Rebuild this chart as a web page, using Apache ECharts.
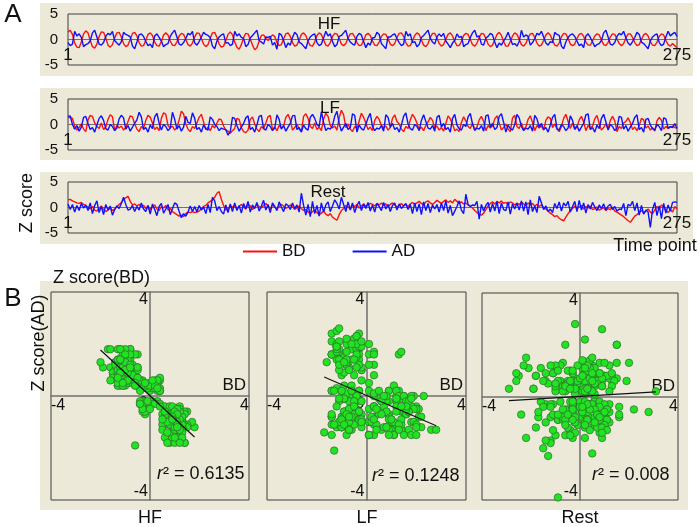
<!DOCTYPE html>
<html><head><meta charset="utf-8">
<script src="https://cdn.jsdelivr.net/npm/echarts@6/dist/echarts.min.js"></script>
<style>html,body{margin:0;padding:0;background:#fff}#c{width:700px;height:527px}</style>
</head><body><div id="c"></div>
<script>
// ---------- DATA ----------
const conditions = ['HF', 'LF', 'Rest'];
const seriesNames = ['BD', 'AD'];
const rSquared = ['0.6135', '0.1248', '0.008'];
const tsYTicks = [-5, 0, 5];
const tsXTickLabels = ['1', '275'];
const scatterTicks = [-4, 0, 4];

const hfBD = [
1.5,1.8,1.0,-0.7,-1.5,-1.6,-0.5,1.1,1.7,1.3,
-0.2,-1.4,-1.7,-0.9,0.6,1.5,1.4,0.3,-1.1,-1.5,
-1.0,0.3,1.3,1.4,0.5,-0.8,-1.4,-1.1,0.0,1.2,
1.4,0.7,-0.6,-1.3,-1.2,-0.2,1.0,1.3,0.8,-0.5,
-1.2,-1.3,-0.4,0.9,1.3,0.9,-0.3,-1.1,-1.2,-0.5,
0.7,1.2,1.0,0.0,-1.0,-1.3,-0.7,0.5,1.3,1.2,
0.2,-0.9,-1.4,-1.0,0.3,1.3,1.4,0.4,-0.9,-1.5,
-1.3,-0.2,1.0,1.5,0.9,-0.5,-1.5,-1.9,-1.0,0.4,
1.2,1.1,0.1,-1.1,-2.0,-1.6,-0.3,0.8,0.9,0.2,
-0.2,0.4,0.9,0.6,-0.6,-1.2,-1.0,0.1,1.1,1.3,
0.6,-0.6,-1.3,-1.1,-0.1,1.0,1.3,0.8,-0.4,-1.2,
-1.3,-0.5,0.8,1.3,1.0,-0.1,-1.1,-1.3,-0.6,0.6,
1.2,1.1,0.2,-0.9,-1.2,-0.8,0.3,1.1,1.2,0.5,
-0.6,-1.2,-1.1,-0.2,0.9,1.2,0.8,-0.3,-1.1,-1.2,
-0.5,0.6,1.1,1.0,0.1,-0.9,-1.2,-0.8,0.4,1.2,
1.3,0.6,-0.6,-1.3,-1.2,-0.3,0.8,1.3,1.0,-0.1,
-1.1,-1.4,-0.8,0.4,1.2,1.2,0.3,-0.8,-1.3,-1.0,
0.1,1.0,1.3,0.7,-0.4,-1.2,-1.2,-0.4,0.8,1.2,
1.0,0.0,-1.0,-1.3,-0.7,0.4,1.2,1.1,0.2,-0.9,
-1.4,-1.1,-0.1,1.0,1.4,0.8,-0.4,-1.3,-1.3,-0.4,
0.7,1.3,1.0,0.0,-1.0,-1.3,-0.8,0.3,1.1,1.2,
0.4,-0.7,-1.3,-1.1,-0.2,0.9,1.3,0.9,-0.2,-1.1,
-1.3,-0.7,0.5,1.2,1.1,0.2,-0.9,-1.2,-0.9,0.2,
1.0,1.2,0.6,-0.5,-1.1,-1.1,-0.3,0.7,1.1,0.9,
-0.1,-1.0,-1.2,-0.6,0.5,1.1,1.0,0.1,-0.8,-1.2,
-0.8,0.3,1.1,1.1,0.4,-0.6,-1.2,-1.0,0.0,0.9,
1.2,0.7,-0.4,-1.1,-1.2,-0.5,0.6,1.1,0.9,-0.2,
-1.0,-1.3,-0.8,-1.2,-1.6];

const hfAD = [
-0.6,-1.2,-0.9,1.6,0.7,1.1,0.4,-1.4,-1.0,-0.8,
-0.3,1.3,1.8,0.5,-0.9,-1.1,-0.6,0.6,1.2,0.9,
1.6,-0.2,-0.7,-1.1,-0.4,1.4,1.0,0.8,0.5,-1.3,
-1.8,-0.5,0.9,1.1,0.6,-0.4,-1.2,-0.9,-1.6,0.7,
1.1,0.4,-0.3,-1.4,-1.0,-0.8,0.6,1.3,1.8,0.5,
-0.9,-1.1,-0.6,0.2,1.2,0.9,1.6,-0.7,-1.1,-0.4,
0.5,1.4,1.0,0.8,0.4,-1.3,-1.8,-0.3,0.5,0.9,
1.1,-0.7,-0.6,-1.2,-0.9,1.6,0.7,1.1,0.4,0.2,
-1.4,-1.0,0.3,0.8,1.3,1.8,-0.2,-0.5,-0.9,0.5,
0.4,0.6,-1.1,-0.6,-1.9,1.2,0.9,-0.2,-1.6,-0.7,
-1.1,0.4,1.4,1.0,-0.5,-0.8,-1.3,-1.8,-0.3,0.5,
0.9,1.1,-0.6,-1.2,-0.9,0.3,1.6,0.7,1.1,-0.4,
-1.4,-1.0,0.6,0.8,1.3,1.8,0.2,-0.5,-0.9,-1.1,
0.6,1.2,0.9,-0.4,-1.6,-0.7,-1.1,0.3,0.4,1.4,
1.0,-0.8,-1.3,-1.8,0.5,0.5,0.9,1.1,0.2,-0.6,
-1.2,-0.9,1.6,0.7,1.1,-0.6,-0.4,-1.4,-1.0,0.4,
0.8,1.3,1.8,0.3,-0.5,-0.9,0.5,1.1,0.6,1.2,
-0.3,-0.9,-1.6,-0.7,-0.2,1.1,0.4,0.6,-1.4,-1.0,
-0.8,0.4,1.3,1.8,0.5,0.7,-0.9,-1.1,0.3,0.6,
1.2,0.9,-0.5,-1.6,-0.7,-1.1,-0.3,0.4,1.4,0.2,
-1.0,-0.8,-1.3,-0.4,1.8,0.5,0.9,0.6,-1.1,-0.6,
0.2,1.2,0.9,1.6,0.5,-0.7,-1.1,-0.4,-0.6,1.4,
1.0,0.8,-1.3,-1.8,-0.5,0.4,0.9,1.1,0.6,-0.3,
-1.2,-0.9,-1.6,0.7,1.1,0.4,-0.5,-1.4,-1.0,-0.8,
-0.2,1.3,1.8,0.5,-0.9,-1.1,-0.6,0.6,1.2,0.9,
1.6,0.3,-0.7,-1.1,-0.4,0.4,1.4,1.0,-0.5,-0.8,
-1.3,-1.8,-0.3,0.5,0.9,1.1,-0.6,-1.2,-0.9,0.5,
1.6,0.7,1.1,1.4,0.6];

const lfBD = [
1.3,1.4,1.2,-0.3,-1.1,-0.6,0.1,
-0.9,-1.4,0.9,1.8,1.6,0.3,-0.4,-0.8,
0.3,-1.0,-0.5,1.0,1.9,1.5,-1.2,-0.2,
-0.7,-0.3,-1.1,-0.6,0.6,1.7,1.5,0.1,
-0.9,-1.4,-0.4,-0.8,0.8,1.8,1.4,0.3,
-1.0,-0.5,-1.2,1.2,2.3,2.0,-0.2,-0.7,
-0.3,-1.1,-0.6,0.9,2.6,2.1,0.1,-0.9,
-1.4,-0.4,-0.8,0.3,1.4,2.0,0.5,-1.0,
-0.5,-1.2,-0.2,-0.7,0.3,1.1,0.9,-0.3,
-1.1,-1.3,-1.7,-1.2,-0.8,1.2,1.0,-0.6,
-1.4,-1.6,-1.1,1.0,1.5,0.1,-0.9,-1.4,
-0.4,-0.8,0.3,1.5,1.8,-1.0,-0.5,-1.2,
-0.2,-0.7,-0.3,1.4,2.0,0.9,-1.1,-0.6,
0.1,-0.9,-1.4,1.6,2.1,1.2,-0.4,-0.8,
0.3,-1.0,-0.5,-1.2,1.1,2.2,1.6,-0.2,
-0.7,-0.3,-1.1,1.3,2.8,1.9,-0.6,0.1,
-0.9,-1.4,-0.4,-0.8,0.7,2.2,1.4,0.3,
-1.0,-0.5,-1.2,0.8,1.6,1.0,-0.2,-0.7,
-0.3,-1.1,-0.6,1.2,1.9,0.6,0.1,-0.9,
-1.4,-0.4,-0.8,0.9,2.0,1.3,0.3,-1.0,
-0.5,-1.2,-0.2,0.5,1.4,0.8,-0.7,-0.3,
-1.1,-0.6,-1.3,0.2,1.7,1.1,0.1,-1.2,
-0.9,-1.4,0.4,1.5,0.7,-0.4,-0.8,0.3,
-1.0,-0.5,0.9,1.6,0.6,-1.2,-0.2,-0.7,
-0.3,1.1,1.7,0.3,-1.1,-0.6,0.1,-0.9,
-1.4,1.3,1.8,-0.4,-0.8,0.3,-1.0,-0.5,
1.0,1.7,0.4,-1.2,-0.2,-0.7,-0.3,-1.1,
0.8,1.5,1.2,-0.6,0.1,-0.9,-1.4,-0.4,
1.2,2.0,0.6,-0.8,0.3,-1.0,-0.5,0.9,
1.6,0.5,-1.2,-0.2,-0.7,-0.3,1.1,1.8,
0.2,-1.1,-0.6,0.1,-0.9,0.8,1.6,0.7,
-1.4,-0.4,-0.8,0.3,0.6,1.3,0.4,-1.0,
-0.5,-1.2,-0.2,1.2,0.9,-0.7,-0.3,-1.1,
-0.6,-1.3,0.7,1.4,0.8,-0.9,-0.4,-0.8,
-0.5,-0.3,-0.6,-0.7];

const lfAD = [
1.6,1.7,0.0,-0.9,-0.2,-1.3,-0.5,
1.4,1.6,0.2,-1.0,-0.6,-1.5,-0.1,1.2,
1.7,0.8,-0.8,-1.1,0.0,-0.4,-1.2,-0.7,
1.1,1.8,1.3,-0.9,-0.2,-1.3,-0.5,0.2,
0.9,2.4,1.5,-1.0,-0.6,-1.5,-0.1,-0.8,
1.5,2.2,0.3,-1.1,0.0,-0.4,-1.2,-0.7,
2.4,1.0,-0.9,-0.2,-1.3,-0.5,1.6,0.4,
0.2,2.3,1.2,-1.0,-0.6,-1.5,-0.1,-0.8,
-1.1,1.5,1.0,0.0,-0.4,-1.2,-0.7,-0.9,
-1.0,-2.1,-1.4,1.4,1.2,-0.2,-1.3,-0.5,
0.2,1.3,1.7,-1.0,-0.6,-1.5,-0.1,1.6,
1.8,-0.8,-1.1,0.0,-0.4,-1.2,-0.7,1.9,
1.0,-0.9,-0.2,-1.3,-0.5,0.2,1.7,1.8,
-1.0,-0.6,-1.5,-0.1,-0.8,-1.1,1.4,2.0,
1.2,0.0,-0.4,2.5,0.4,-1.2,-0.7,-0.9,
-0.2,1.6,2.6,0.2,-1.3,-0.5,0.2,-1.0,
-0.6,2.1,1.8,-1.5,-0.1,-0.8,-1.1,0.0,
1.3,2.2,-0.4,-1.2,-0.7,-0.9,-0.2,-1.3,
1.9,1.4,-0.5,0.2,-1.0,-0.6,-1.5,-0.1,
1.6,2.3,0.1,-0.8,-1.1,0.0,-0.4,-1.2,
0.8,1.9,0.6,-0.7,-0.9,-0.2,-1.3,1.4,
1.8,-0.5,0.2,-1.0,-0.6,-1.5,1.2,2.0,
-0.1,-0.8,-1.1,0.0,-0.4,1.5,2.2,0.1,
-1.2,-0.7,-0.9,-0.2,-1.3,1.7,1.9,-0.5,
0.2,-1.0,-0.6,1.6,2.1,0.4,-1.5,-0.1,
-0.8,-1.1,0.0,2.0,1.3,-0.4,-1.2,-0.7,
-0.9,-0.2,-1.3,1.8,1.1,-0.5,0.2,-1.0,
-0.6,-1.5,-0.1,1.4,2.0,-0.8,-1.1,0.0,
-0.4,-1.2,-0.7,1.7,0.8,-0.9,-0.2,-1.3,
-0.5,0.2,1.9,2.1,-1.0,-0.6,-1.5,-0.1,
-0.8,1.2,2.0,0.5,-1.1,0.0,-0.4,-1.2,
-0.7,1.6,1.4,-0.9,-0.2,-1.3,-0.5,0.2,
1.4,1.9,-1.0,-0.6,-1.5,1.0,1.2,-0.1,
-0.8,-1.1,0.0,-0.4,-1.2,1.3,1.1,-0.7,
-0.4,-0.6,0.2,-0.8];

const restBD = [
1.5,1.6,1.3,1.1,0.9,
0.8,1.0,0.6,0.4,
0.1,-0.3,0.2,-0.5,-0.7,-0.2,0.3,-0.4,-0.8,-0.5,-0.1,
-0.6,-0.3,0.2,0.6,1.0,
1.5,1.9,2.2,1.2,0.5,
0.7,0.3,0.6,0.2,0.4,
-0.2,0.3,-0.4,0.1,0.5,-0.3,-0.6,0.2,-0.1,0.4,-0.5,-0.2,-0.8,-1.1,-1.4,
-1.7,-1.5,-1.8,-1.2,
-0.9,-1.0,-0.8,-1.0,-0.9,-0.7,
-0.3,0.2,0.4,0.9,1.2,1.5,
2.0,2.8,3.1,1.6,
0.4,-0.5,-0.2,0.3,0.1,
0.4,-0.2,0.2,0.6,0.1,-0.3,0.5,0.3,-0.4,0.0,0.6,0.2,-0.1,0.4,0.8,0.3,-0.2,0.5,0.1,-0.3,0.2,0.6,0.3,-0.2,0.1,0.5,0.2,-0.4,0.0,0.3,
-0.2,-0.6,-0.4,-0.9,-1.2,-0.8,-0.5,-1.0,-1.4,-1.1,-0.7,-1.3,-1.6,-1.2,-1.9,-2.2,-2.5,
-1.4,-0.6,-0.2,0.4,0.1,-0.3,0.5,0.2,0.6,-0.1,0.3,0.7,0.2,0.5,0.8,
0.6,0.3,0.8,0.5,0.9,0.4,0.7,0.2,0.6,0.9,0.5,0.1,0.4,0.8,0.3,0.6,
0.2,0.7,1.0,0.6,0.9,1.2,0.8,0.5,1.1,1.3,0.9,0.6,1.0,1.4,1.1,
0.8,1.2,1.5,1.0,1.3,0.9,1.6,1.2,0.8,1.1,0.7,0.9,
0.5,0.2,-0.1,-0.6,-1.0,-1.3,
-1.5,-1.1,-0.4,
0.3,0.8,1.1,0.7,1.2,0.9,1.3,0.8,1.0,0.6,1.1,0.9,0.5,0.8,
0.6,1.0,0.7,0.4,0.9,0.5,0.8,0.3,0.6,
0.2,0.5,0.0,-0.3,-0.7,-1.1,
-1.4,-1.8,-1.6,-2.1,-2.4,-2.6,-1.9,-1.2,-0.6,-0.2,
0.3,-0.2,0.1,0.4,-0.3,0.2,-0.1,0.3,-0.4,
-0.2,0.1,-0.5,-0.3,0.0,-0.6,-0.2,-0.4,0.1,-0.7,-0.9,-1.2,
-1.5,-1.8,-2.2,-2.6,-2.9,-2.3,-1.7,-1.4,-1.0,
-0.6,-1.1,-0.7,-0.3,-0.9,-1.2,-0.5,0.2,-0.4,0.5,0.1,-0.6,-1.0,-0.5,-0.9,0.2,-0.3];

const restAD = [
0.7,-0.4,0.6,-0.9,0.4,
-0.6,0.8,-0.1,0.5,
-0.6,0.9,-1.2,0.4,1.3,-1.0,0.2,-1.4,0.6,-0.5,0.3,
-1.5,-0.4,0.3,-0.2,0.8,
2.0,0.6,-0.5,-0.3,0.4,
-0.8,0.2,-0.5,0.9,-0.3,
-0.8,0.4,-1.3,0.7,-0.4,-1.6,0.2,0.8,-1.1,-0.3,0.6,-1.4,-0.2,0.9,0.6,
-0.8,-2.0,-1.2,-1.7,
-0.9,0.3,-0.8,0.2,-0.9,0.4,
-0.5,0.1,-1.2,0.6,-1.0,2.0,
1.3,-0.6,0.2,-0.8,
-1.3,0.5,-1.0,0.7,-0.8,
0.9,-0.6,0.4,-1.1,0.8,-0.3,1.2,-0.9,0.5,-0.2,1.0,-0.7,0.3,1.4,-0.5,0.6,-1.0,0.9,0.2,-0.6,1.1,0.1,-0.8,0.7,0.4,-0.4,0.9,-0.2,0.5,-0.9,
2.8,0.4,-1.5,0.6,-1.8,1.2,-1.2,0.4,-1.7,0.9,-0.9,0.5,1.1,-0.8,0.3,1.5,0.8,
-0.3,2.0,0.6,-0.8,1.1,-0.5,0.9,-1.0,0.4,1.2,-0.6,0.7,-0.2,1.0,-0.7,
0.5,-0.9,0.8,0.2,-0.6,1.0,-0.3,0.6,-0.8,0.4,0.9,-0.5,0.7,-0.2,0.3,0.8,
-0.4,0.6,-1.2,0.9,-0.8,0.7,-1.4,1.1,-0.6,0.8,-1.0,0.5,-0.3,0.6,-0.9,
0.9,-0.6,1.3,-1.1,0.4,-1.6,-0.7,0.2,1.3,-0.5,-1.2,2.6,
0.6,0.2,0.5,0.4,1.2,-2.3,
0.6,-0.7,0.4,
1.0,-0.9,0.8,-0.7,1.2,-1.2,0.9,-0.4,-0.6,1.1,-1.3,0.7,-0.3,0.9,
-0.5,1.3,-0.7,1.1,-1.4,1.5,-0.8,0.3,-1.0,
2.2,0.9,-0.4,0.3,-0.8,-0.3,
-1.0,0.8,-0.2,1.1,-0.7,0.9,0.3,1.2,-0.9,0.2,
1.2,-0.8,1.4,-0.5,0.9,-1.1,0.6,-0.3,1.0,
0.1,-0.6,0.5,-0.2,0.7,-0.5,0.3,0.6,-0.4,0.2,-0.7,-0.3,
-0.4,0.8,-1.6,0.6,0.3,1.2,-0.6,0.9,-1.5,
0.4,-1.3,-0.5,-0.9,-3.9,-0.4,1.0,-1.6,0.3,-2.2,0.8,-1.1,0.5,-0.7,1.0,1.1,1.0];

// ---------- BUILD ----------
const BD = [hfBD, lfBD, restBD];
const AD = [hfAD, lfAD, restAD];
const timePoints = [];
for (let i = 1; i <= hfBD.length; i++) timePoints.push(String(i));
const lastIdx = timePoints.length - 1;

function fitLine(xs, ys) {
  const n = Math.min(xs.length, ys.length);
  let mx = 0, my = 0;
  for (let i = 0; i < n; i++) { mx += xs[i]; my += ys[i]; }
  mx /= n; my /= n;
  let sxy = 0, sxx = 0;
  for (let i = 0; i < n; i++) { sxy += (xs[i]-mx)*(ys[i]-my); sxx += (xs[i]-mx)*(xs[i]-mx); }
  const b = sxy / sxx, a = my - b*mx;
  const x0 = Math.min.apply(null, xs), x1 = Math.max.apply(null, xs);
  return [[x0, a + b*x0], [x1, a + b*x1]];
}

const FONT = 'Liberation Sans, Arial, sans-serif';
const BEIGE = '#ECE9D8';
const TXT = '#111';

const tsGrids = [
  {left: 68, right: 23, top: 14, height: 51},
  {left: 68, right: 23, top: 99, height: 51},
  {left: 68, right: 23, top: 182, height: 51}
];
const scGrids = [
  {left: 51, top: 292, width: 198, height: 208},
  {left: 267, top: 292, width: 199, height: 208},
  {left: 482, top: 293, width: 196, height: 207}
];
const grid = tsGrids.concat(scGrids).map(g => Object.assign({
  show: true, borderColor: '#3c3c3c', borderWidth: 1, backgroundColor: 'transparent', containLabel: false
}, g));

const xAxis = [], yAxis = [], series = [];
for (let i = 0; i < 3; i++) {
  xAxis.push({
    type: 'category', gridIndex: i, data: timePoints, boundaryGap: false,
    position: 'bottom', offset: -tsGrids[i].height / 2,
    axisLine: {show: true, onZero: false, lineStyle: {color: '#6f6f6f', width: 1.2}},
    axisTick: {show: false}, splitLine: {show: false},
    axisLabel: {
      interval: (idx) => idx === 0 || idx === lastIdx,
      formatter: (v, idx) => idx === 0 ? tsXTickLabels[0] : tsXTickLabels[1],
      fontSize: 17, color: TXT, margin: 7, fontFamily: FONT
    }
  });
  yAxis.push({
    type: 'value', gridIndex: i, min: tsYTicks[0], max: tsYTicks[2], interval: 5,
    axisLine: {show: false}, axisTick: {show: false}, splitLine: {show: false},
    axisLabel: {fontSize: 15, color: TXT, margin: 10, fontFamily: FONT}
  });
  series.push({
    name: seriesNames[0], type: 'line', xAxisIndex: i, yAxisIndex: i, data: BD[i],
    showSymbol: false, symbol: 'none', color: '#FF1010', lineStyle: {color: '#FF1010', width: 1.4}, z: 3
  });
  series.push({
    name: seriesNames[1], type: 'line', xAxisIndex: i, yAxisIndex: i, data: AD[i],
    showSymbol: false, symbol: 'none', color: '#1010FF', lineStyle: {color: '#1010FF', width: 1.4}, z: 4
  });
}
for (let i = 0; i < 3; i++) {
  const gi = 3 + i, g = scGrids[i];
  xAxis.push({
    type: 'value', gridIndex: gi, min: scatterTicks[0], max: scatterTicks[2], interval: 4,
    position: 'bottom', offset: -g.height / 2,
    name: seriesNames[0], nameLocation: 'end', nameGap: -3,
    nameTextStyle: {align: 'right', verticalAlign: 'bottom', fontSize: 17, color: TXT, fontFamily: FONT, padding: [0, 0, 2, 0]},
    axisLine: {show: true, onZero: false, lineStyle: {color: '#6f6f6f', width: 1.5}},
    axisTick: {show: false}, splitLine: {show: false},
    axisLabel: {
      showMinLabel: true, showMaxLabel: true,
      formatter: v => v === 0 ? '' : String(v),
      alignMinLabel: 'left', alignMaxLabel: 'right', verticalAlign: 'top',
      fontSize: 16, color: TXT, margin: 2, fontFamily: FONT
    }
  });
  yAxis.push({
    type: 'value', gridIndex: gi, min: scatterTicks[0], max: scatterTicks[2], interval: 4,
    position: 'left', offset: -g.width / 2,
    axisLine: {show: true, onZero: false, lineStyle: {color: '#6f6f6f', width: 1.5}},
    axisTick: {show: false}, splitLine: {show: false},
    axisLabel: {
      showMinLabel: true, showMaxLabel: true,
      verticalAlign: 'top', verticalAlignMinLabel: 'bottom', verticalAlignMaxLabel: 'top',
      fontSize: 16, color: TXT, margin: 2, fontFamily: FONT
    }
  });
  const pts = BD[i].map((x, k) => [x, AD[i][k]]);
  series.push({
    name: conditions[i] + ' scatter', type: 'scatter', xAxisIndex: gi, yAxisIndex: gi, data: pts,
    symbol: 'circle', symbolSize: 7.5,
    itemStyle: {color: '#22E322', borderColor: '#2f6a2f', borderWidth: 0.7, opacity: 1}, z: 3
  });
  series.push({
    name: conditions[i] + ' fit', type: 'line', xAxisIndex: gi, yAxisIndex: gi,
    data: fitLine(BD[i], AD[i]), showSymbol: false, symbol: 'none',
    lineStyle: {color: '#111', width: 1.2}, z: 5
  });
}

function txt(x, y, text, size, opts) {
  return Object.assign({
    type: 'text', x: x, y: y, z: 100,
    style: Object.assign({text: text, font: size + 'px ' + FONT, fill: TXT, align: 'center', verticalAlign: 'middle'}, (opts && opts.style) || {})
  }, (opts && opts.el) || {});
}

const graphic = [
  {type: 'rect', shape: {x: 40, y: 3, width: 653, height: 73}, style: {fill: BEIGE}, z: -10},
  {type: 'rect', shape: {x: 40, y: 88, width: 653, height: 72}, style: {fill: BEIGE}, z: -10},
  {type: 'rect', shape: {x: 40, y: 172, width: 653, height: 72}, style: {fill: BEIGE}, z: -10},
  {type: 'rect', shape: {x: 40, y: 281, width: 648, height: 229}, style: {fill: BEIGE}, z: -10},
  txt(13, 15, 'A', 26),
  txt(13, 299, 'B', 26),
  txt(329, 24, conditions[0], 17),
  txt(330, 108, conditions[1], 17),
  txt(328, 192, conditions[2], 17),
  txt(27, 203, 'Z score', 18, {el: {rotation: Math.PI / 2}}),
  txt(655, 246, 'Time point', 18),
  txt(53, 278, 'Z score(BD)', 18, {style: {align: 'left'}}),
  txt(39, 343, 'Z score(AD)', 18, {el: {rotation: Math.PI / 2}}),
  txt(150, 518, conditions[0], 18),
  txt(367, 518, conditions[1], 18),
  txt(580, 518, conditions[2], 18)
];
const r2Pos = [[157, 474], [372, 476], [592, 475]];
for (let i = 0; i < 3; i++) {
  graphic.push({
    type: 'text', x: r2Pos[i][0], y: r2Pos[i][1], z: 100,
    style: {
      text: '{it|r}² = ' + rSquared[i],
      font: '18px ' + FONT, fill: TXT, align: 'left', verticalAlign: 'middle',
      rich: {it: {fontStyle: 'italic', fontSize: 18, fontFamily: FONT, fill: TXT}}
    }
  });
}

const chart = echarts.init(document.getElementById('c'), null, {renderer: 'canvas'});
chart.setOption({
  animation: false,
  backgroundColor: '#fff',
  textStyle: {fontFamily: FONT},
  legend: {
    data: seriesNames, left: 243, top: 243, padding: 0, icon: 'rect', itemWidth: 34, itemHeight: 2,
    itemGap: 47, selectedMode: false,
    textStyle: {fontSize: 17, color: TXT, fontFamily: FONT}
  },
  grid: grid, xAxis: xAxis, yAxis: yAxis, series: series, graphic: graphic
});
</script></body></html>
